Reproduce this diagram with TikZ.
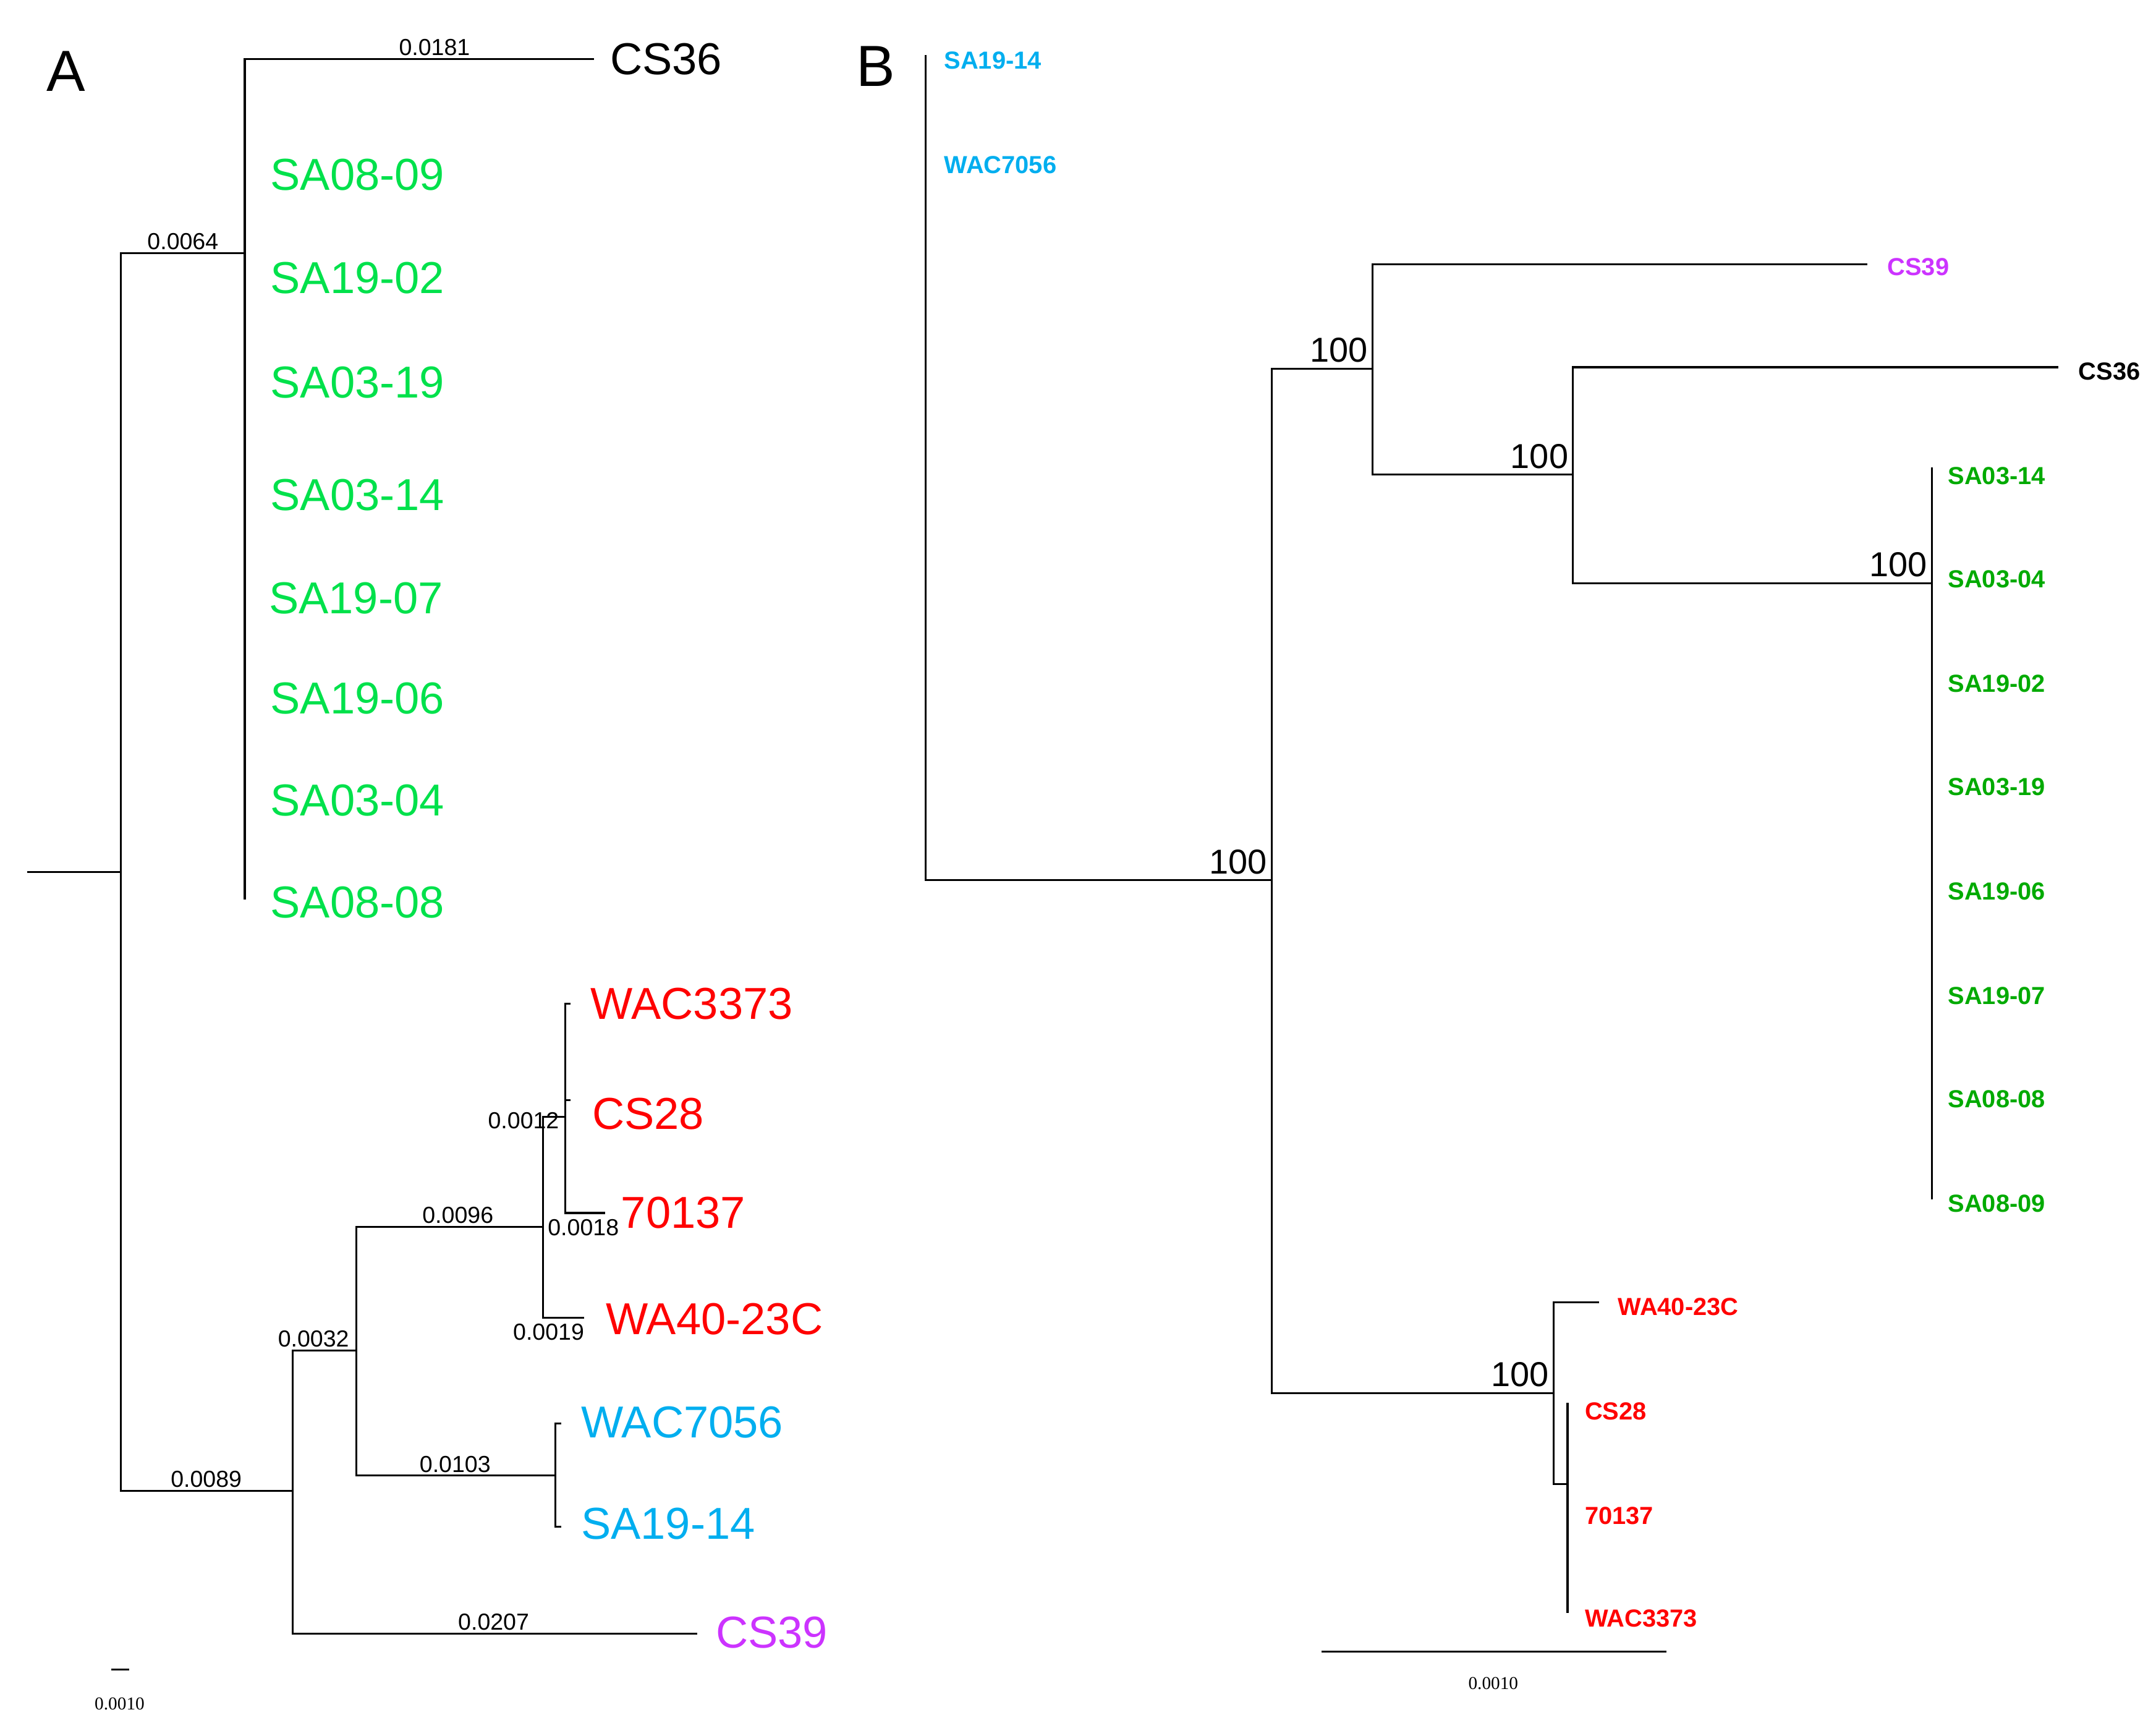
\documentclass[tikz,border=0pt]{standalone}
\usepackage{fontspec}
\setmainfont{Liberation Sans}
\newfontfamily\scalefont{Liberation Serif}
\definecolor{gA}{RGB}{0,225,75}
\definecolor{gB}{RGB}{0,170,0}
\definecolor{bl}{RGB}{0,174,239}
\definecolor{rd}{RGB}{255,0,0}
\definecolor{pu}{RGB}{204,51,255}
\begin{document}
\begin{tikzpicture}[x=0.02cm,y=-0.02cm,line width=0.8pt,
  la/.style={anchor=west,inner sep=0pt,font=\fontsize{18.5}{20}\selectfont},
  lb/.style={anchor=west,inner sep=0pt,font=\bfseries\fontsize{10.2}{12}\selectfont},
  bv/.style={anchor=south,inner sep=1pt,font=\fontsize{9.6}{11}\selectfont},
  bs/.style={anchor=south east,inner sep=1pt,font=\fontsize{14.3}{16}\selectfont},
  sc/.style={inner sep=0pt,font=\scalefont\fontsize{7.5}{9}\selectfont}]
\useasboundingbox (0,0) rectangle (1568,1262);
\node[font=\fontsize{24}{26}\selectfont] (labA) at (48,52) {A};
\node[font=\fontsize{24}{26}\selectfont] (labB) at (637,48) {B};
% ---------- Panel A ----------
\coordinate (rA) at (20,634);
\coordinate (nA0) at (88,634);
\coordinate (nA1) at (178,184);
\coordinate (eCS36) at (432,43);
\coordinate (gEnd) at (178,654);
\coordinate (nA2) at (213,1084);
\coordinate (nA3) at (259,982);
\coordinate (eCS39) at (507,1188);
\coordinate (nA4) at (395,892);
\coordinate (nA5) at (404,1073);
\coordinate (nA6) at (411,812);
\coordinate (eWAC3373) at (415,730);
\coordinate (eCS28) at (415,800);
\coordinate (e70137) at (440,882);
\coordinate (eWA40) at (425,958);
\coordinate (eWAC7056) at (408,1035);
\coordinate (eSA1914) at (408,1110);
\draw (rA) -- (nA0);
\draw (nA0) |- (nA1);
\draw (nA1) |- (eCS36);
\draw (nA1) -- (gEnd);
\draw (nA0) |- (nA2);
\draw (nA2) |- (nA3);
\draw (nA2) |- (eCS39);
\draw (nA3) |- (nA4);
\draw (nA3) |- (nA5);
\draw (nA4) |- (nA6);
\draw (nA4) |- (eWA40);
\draw (nA6) |- (eWAC3373);
\draw (nA6) |- (eCS28);
\draw (nA6) |- (e70137);
\draw (nA5) |- (eWAC7056);
\draw (nA5) |- (eSA1914);
\node[bv] (vA1) at (316,43) {0.0181};
\node[bv] (vA2) at (133,184) {0.0064};
\node[bv] (vA3) at (150,1084) {0.0089};
\node[bv] (vA4) at (228,982) {0.0032};
\node[bv] (vA5) at (359,1188) {0.0207};
\node[bv] (vA6) at (333,892) {0.0096};
\node[bv] (vA7) at (331,1073) {0.0103};
\node[bv,anchor=east] (vA8) at (409,815) {0.0012};
\node[bv,anchor=north west] (vA9) at (396,884) {0.0018};
\node[bv,anchor=north] (vA10) at (399,960) {0.0019};
\node[la] (tCS36) at (443,43) {CS36};
\node[la,gA] (tA1) at (196,127) {SA08-09};
\node[la,gA] (tA2) at (196,202) {SA19-02};
\node[la,gA] (tA3) at (196,278) {SA03-19};
\node[la,gA] (tA4) at (196,360) {SA03-14};
\node[la,gA] (tA5) at (195,435) {SA19-07};
\node[la,gA] (tA6) at (196,508) {SA19-06};
\node[la,gA] (tA7) at (196,582) {SA03-04};
\node[la,gA] (tA8) at (196,656) {SA08-08};
\node[la,rd] (tA9) at (429,730) {WAC3373};
\node[la,rd] (tA10) at (430,810) {CS28};
\node[la,rd] (tA11) at (451,882) {70137};
\node[la,rd] (tA12) at (440,959) {WA40-23C};
\node[la,bl] (tA13) at (422,1034) {WAC7056};
\node[la,bl] (tA14) at (422,1108) {SA19-14};
\node[la,pu] (tA15) at (520,1187) {CS39};
\coordinate (sA1) at (81,1214);
\coordinate (sA2) at (94,1214);
\draw (sA1) -- (sA2);
\node[sc] (sAl) at (87,1239) {0.0010};
% ---------- Panel B ----------
\coordinate (tB) at (673,40);
\coordinate (nB0) at (673,640);
\coordinate (nB1) at (925,640);
\coordinate (nB2) at (998,268);
\coordinate (eCS39B) at (1358,192);
\coordinate (nB3) at (1144,345);
\coordinate (eCS36B) at (1497,267);
\coordinate (nB4) at (1405,424);
\coordinate (gB1) at (1405,340);
\coordinate (gB2) at (1405,872);
\coordinate (nB5) at (1130,1013);
\coordinate (eWA40B) at (1163,947);
\coordinate (nB6) at (1140,1079);
\coordinate (rB1) at (1140,1020);
\coordinate (rB2) at (1140,1173);
\draw (tB) -- (nB0) -- (nB1);
\draw (nB1) |- (nB2);
\draw (nB2) |- (eCS39B);
\draw (nB2) |- (nB3);
\draw (nB3) |- (eCS36B);
\draw (nB3) |- (nB4);
\draw (gB1) -- (gB2);
\draw (nB1) |- (nB5);
\draw (nB5) |- (eWA40B);
\draw (nB5) |- (nB6);
\draw (rB1) -- (rB2);
\node[bs] (hB1) at (924,638) {100};
\node[bs] (hB2) at (997,266) {100};
\node[bs] (hB3) at (1143,343) {100};
\node[bs] (hB4) at (1404,422) {100};
\node[bs] (hB5) at (1129,1011) {100};
\node[lb,bl] (tB1) at (686,44) {SA19-14};
\node[lb,bl] (tB2) at (686,120) {WAC7056};
\node[lb,pu] (tB3) at (1372,194) {CS39};
\node[lb] (tB4) at (1511,270) {CS36};
\node[lb,gB] (tB5) at (1416,346) {SA03-14};
\node[lb,gB] (tB6) at (1416,421) {SA03-04};
\node[lb,gB] (tB7) at (1416,497) {SA19-02};
\node[lb,gB] (tB8) at (1416,572) {SA03-19};
\node[lb,gB] (tB9) at (1416,648) {SA19-06};
\node[lb,gB] (tB10) at (1416,724) {SA19-07};
\node[lb,gB] (tB11) at (1416,799) {SA08-08};
\node[lb,gB] (tB12) at (1416,875) {SA08-09};
\node[lb,rd] (tB13) at (1176,950) {WA40-23C};
\node[lb,rd] (tB14) at (1152,1026) {CS28};
\node[lb,rd] (tB15) at (1152,1102) {70137};
\node[lb,rd] (tB16) at (1152,1177) {WAC3373};
\coordinate (sB1) at (961,1201);
\coordinate (sB2) at (1212,1201);
\draw (sB1) -- (sB2);
\node[sc] (sBl) at (1086,1224) {0.0010};
\end{tikzpicture}
\end{document}
